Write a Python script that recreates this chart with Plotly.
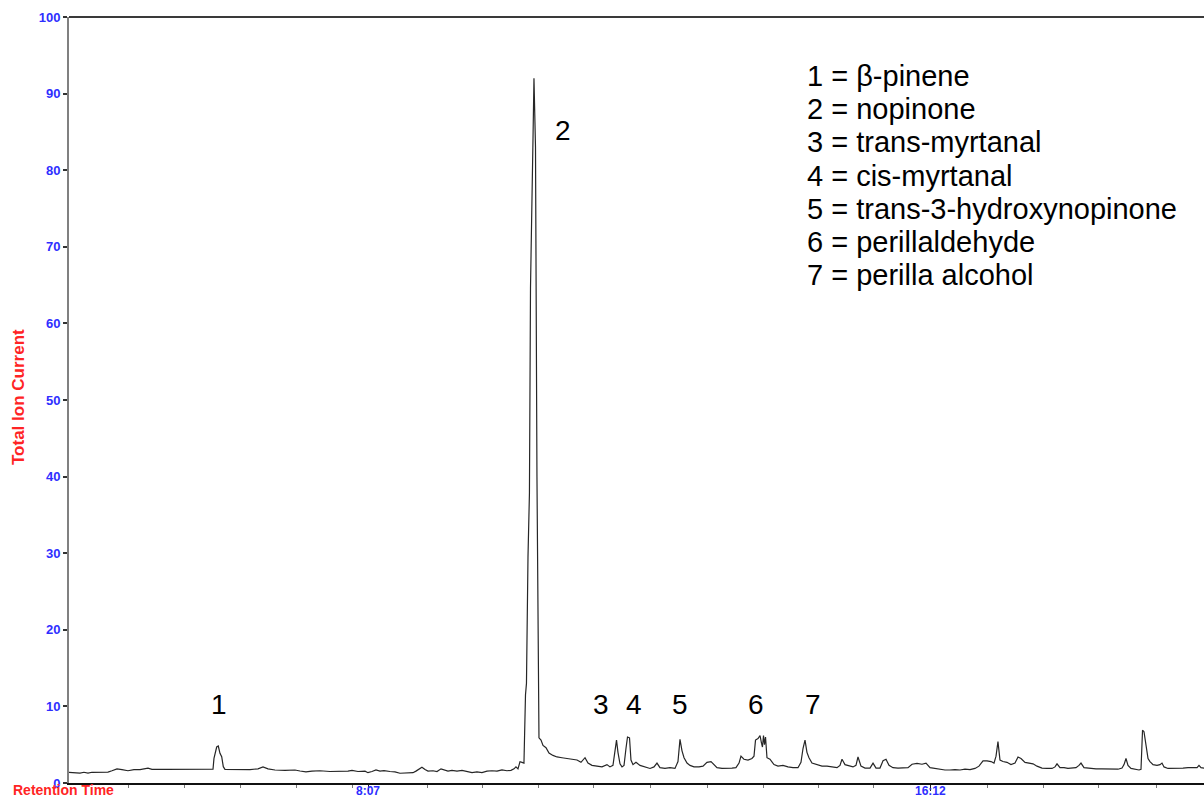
import plotly.graph_objects as go

# ---------------- data ----------------
# retention time in minutes
rt_min = [
    3.816, 3.902, 3.974, 4.031, 4.089, 4.146, 4.261, 4.376, 4.434, 4.506,
    4.578, 4.664, 4.750, 4.837, 4.952, 5.009, 5.196, 5.412, 5.628, 5.772,
    5.858, 5.887, 5.901, 5.940, 5.963, 5.987, 6.012, 6.035, 6.059, 6.203,
    6.419, 6.534, 6.606, 6.678, 6.778, 6.922, 7.066, 7.138, 7.224, 7.310,
    7.425, 7.569, 7.713, 7.828, 7.886, 7.972,
    8.073, 8.116, 8.173, 8.231, 8.288, 8.346, 8.432, 8.504, 8.576, 8.648,
    8.720, 8.763, 8.806, 8.849, 8.892, 8.936, 8.979, 9.051, 9.108, 9.166,
    9.209, 9.266, 9.324, 9.396, 9.468, 9.540, 9.612, 9.683, 9.755, 9.827,
    9.899, 9.971, 10.043, 10.115, 10.172, 10.216, 10.244, 10.273, 10.302, 10.331,
    10.359,
    10.381, 10.395, 10.417, 10.438, 10.453, 10.474, 10.489, 10.503, 10.525, 10.546,
    10.565,
    10.575, 10.604, 10.633, 10.676, 10.719, 10.776, 10.834, 10.906, 10.978, 11.050,
    11.122, 11.179, 11.237, 11.280, 11.337, 11.409, 11.481, 11.553, 11.596, 11.639,
    11.668, 11.690, 11.711, 11.740, 11.769, 11.798, 11.826, 11.848, 11.877, 11.898,
    11.927,
    11.970, 12.028, 12.100, 12.172, 12.229, 12.272, 12.315, 12.387, 12.459, 12.531,
    12.574, 12.603, 12.632, 12.661, 12.704, 12.747, 12.804, 12.876, 12.934, 12.991,
    13.049, 13.092, 13.135, 13.207, 13.279, 13.351, 13.408, 13.452, 13.480, 13.523,
    13.581, 13.638, 13.667, 13.689, 13.725, 13.754, 13.775, 13.789, 13.804, 13.818,
    13.833, 13.854, 13.897, 13.955, 14.012, 14.084, 14.156, 14.228, 14.300,
    14.343, 14.372, 14.401, 14.429, 14.458, 14.501, 14.573, 14.645, 14.717, 14.789,
    14.861, 14.904, 14.933, 14.976, 15.034, 15.091, 15.134, 15.163, 15.206, 15.264,
    15.336, 15.379, 15.422, 15.479, 15.523, 15.566, 15.609, 15.666, 15.738, 15.810,
    15.882, 15.940, 16.012, 16.083, 16.141, 16.199, 16.270, 16.342, 16.414, 16.486,
    16.558, 16.630, 16.702, 16.774, 16.846, 16.903, 16.961, 17.018, 17.076, 17.119,
    17.148, 17.176, 17.205,
    17.248, 17.306, 17.363, 17.421, 17.464, 17.507, 17.565, 17.622, 17.680, 17.737,
    17.809, 17.881, 17.953, 17.996, 18.025, 18.068, 18.126, 18.183, 18.241, 18.298,
    18.341, 18.370, 18.413, 18.500, 18.586, 18.672, 18.759, 18.845, 18.902, 18.960,
    18.989, 19.017, 19.046, 19.089, 19.147, 19.204, 19.233, 19.255, 19.276, 19.305,
    19.334, 19.362, 19.406, 19.463, 19.506, 19.535, 19.564, 19.621, 19.693, 19.765,
    19.837, 19.909, 19.981, 20.039, 20.067, 20.096, 20.139,
]

# total ion current (relative, %)
tic = [
    1.40, 1.38, 1.30, 1.40, 1.30, 1.40, 1.40, 1.42, 1.60, 1.85,
    1.75, 1.60, 1.75, 1.75, 1.95, 1.78, 1.78, 1.80, 1.78, 1.80,
    1.78, 1.80, 3.22, 4.70, 4.83, 3.88, 3.43, 2.13, 1.79, 1.79,
    1.75, 1.85, 2.10, 1.85, 1.70, 1.65, 1.70, 1.57, 1.45, 1.55,
    1.60, 1.50, 1.50, 1.55, 1.65, 1.50,
    1.55, 1.35, 1.50, 1.70, 1.55, 1.62, 1.50, 1.45, 1.27, 1.27,
    1.27, 1.35, 1.55, 1.75, 2.05, 1.75, 1.55, 1.60, 1.50, 1.85,
    1.70, 1.55, 1.65, 1.55, 1.65, 1.45, 1.35, 1.45, 1.35, 1.55,
    1.60, 1.55, 1.70, 1.60, 1.65, 1.85, 2.10, 1.85, 2.78, 2.70,
    2.60,
    11.5, 13.0, 29.5, 37.9, 64.7, 80.0, 84.1, 92.0, 83.0, 40.0,
    8.2,
    5.9, 5.6, 4.9, 4.6, 3.9, 3.6, 3.4, 3.3, 3.2, 3.1,
    3.0, 2.7, 3.3, 2.6, 2.3, 2.2, 2.1, 2.4, 2.1, 2.3,
    4.2, 5.6, 4.0, 2.5, 2.1, 2.3, 4.5, 6.0, 5.9, 3.0,
    2.4,
    2.7, 2.3, 2.1, 1.9, 2.1, 2.6, 2.0, 1.9, 2.0, 1.9,
    2.8, 5.7, 4.2, 3.3, 2.6, 2.3, 2.1, 2.1, 2.2, 2.7,
    2.8, 2.4, 2.0, 1.9, 1.9, 1.95, 2.0, 2.6, 3.5, 3.1,
    3.0, 3.2, 3.5, 5.6, 5.8, 6.2, 5.2, 4.7, 6.2, 5.0,
    6.0, 3.3, 3.1, 2.4, 2.2, 2.3, 2.1, 2.0, 2.0,
    2.7, 4.5, 5.6, 4.0, 3.3, 2.6, 2.4, 2.2, 2.2, 2.1,
    2.0, 2.3, 3.1, 2.4, 2.2, 2.1, 2.3, 3.4, 2.2, 1.95,
    1.95, 2.6, 1.95, 1.95, 2.9, 3.1, 2.3, 2.0, 1.95, 2.0,
    2.0, 2.45, 2.55, 2.45, 2.6, 2.0, 1.9, 1.75, 1.7, 1.7,
    1.75, 1.7, 1.8, 1.75, 1.9, 2.2, 2.9, 2.9, 2.8, 2.6,
    3.5, 5.4, 3.0,
    2.8, 2.7, 2.4, 2.6, 3.4, 3.2, 2.7, 2.6, 2.5, 2.2,
    1.95, 1.9, 1.9, 2.1, 2.5, 2.0, 2.0, 1.9, 2.0, 2.0,
    2.3, 2.6, 2.0, 1.9, 1.85, 1.85, 1.85, 1.85, 1.8, 1.95,
    2.4, 3.2, 2.3, 1.9, 1.8, 1.7, 1.8, 6.9, 6.7, 4.7,
    3.2, 2.8, 2.4, 2.3, 2.4, 2.6, 2.1, 1.9, 1.9, 1.95,
    1.95, 2.0, 1.95, 2.0, 2.3, 2.0, 1.95,
]

# peak numbers and where they are written
peak_ids = ["1", "2", "3", "4", "5", "6", "7"]
peak_label_rt = [5.966, 10.920, 11.460, 11.937, 12.596, 13.693, 14.520]
peak_label_tic = [10.2, 85.2, 10.2, 10.2, 10.2, 10.2, 10.2]

# compound key
key_lines = [
    "1 = \u03b2-pinene",
    "2 = nopinone",
    "3 = trans-myrtanal",
    "4 = cis-myrtanal",
    "5 = trans-3-hydroxynopinone",
    "6 = perillaldehyde",
    "7 = perilla alcohol",
]

# axes
x_major_vals = [8.1167, 16.2]
x_major_text = ["8:07", "16:12"]
x_minor_vals = [4.665, 5.470, 6.276, 7.081, 7.887, 8.965, 9.756, 10.562, 11.353,
                12.172, 12.992, 13.798, 14.589, 15.380, 17.019, 17.825, 18.616, 19.450]
y_ticks = [0, 10, 20, 30, 40, 50, 60, 70, 80, 90, 100]

# ---------------- figure ----------------
FONT = "Liberation Sans, Arial, sans-serif"
BLUE = "#2e2eff"
RED = "#ff2424"

fig = go.Figure()
fig.add_trace(go.Scatter(
    x=rt_min, y=tic, mode="lines",
    line=dict(color="#262626", width=1.2),
    hoverinfo="skip",
))

W, H = 1204, 800
ML, MR, MT, MB = 69, 0, 17, 17
plot_w = W - ML - MR
plot_h = H - MT - MB

fig.update_layout(
    width=W, height=H,
    margin=dict(l=ML, r=MR, t=MT, b=MB, pad=0, autoexpand=False),
    paper_bgcolor="white", plot_bgcolor="white",
    showlegend=False,
    font=dict(family=FONT),
)

fig.update_xaxes(
    range=[3.816, 20.139], automargin=False,
    showgrid=False, zeroline=False,
    showline=True, linecolor="#111111", linewidth=2,
    tickmode="array", tickvals=x_major_vals, ticktext=x_major_text,
    showticklabels=False,
    ticks="outside", ticklen=6, tickwidth=1, tickcolor="#222222",
    minor=dict(tickmode="array", tickvals=x_minor_vals, ticks="outside",
               ticklen=3, tickwidth=1, tickcolor="#777777", showgrid=False),
)

fig.update_yaxes(
    range=[0, 100], automargin=False,
    showgrid=False, zeroline=False,
    showline=True, linecolor="#808080", linewidth=2,
    tickmode="array", tickvals=y_ticks,
    ticks="outside", ticklen=4, tickwidth=2, tickcolor="#333333",
    tickfont=dict(family=FONT, size=13, color=BLUE, weight="bold"),
)

# x tick labels, kept fully inside the bottom edge
for val, txt in zip(x_major_vals, x_major_text):
    fig.add_annotation(x=val, y=(H - MB - 799) / plot_h, xref="x", yref="paper",
                       text=txt, showarrow=False, xanchor="center", yanchor="bottom",
                       borderpad=0,
                       font=dict(family=FONT, size=12, color=BLUE, weight="bold"))

# top frame line
fig.add_shape(type="line", xref="paper", yref="paper", x0=0, x1=1, y0=1, y1=1,
              line=dict(color="#3a3a3a", width=2))

# peak numbers
for pid, px_, py_ in zip(peak_ids, peak_label_rt, peak_label_tic):
    fig.add_annotation(x=px_, y=py_, xref="x", yref="y", text=pid, showarrow=False,
                       xanchor="center", yanchor="middle",
                       font=dict(family=FONT, size=28, color="black"))

# compound key
key_left_px = 805
key_top_px = 76
key_step_px = 33.2
for i, line in enumerate(key_lines):
    ypx = key_top_px + i * key_step_px
    fig.add_annotation(x=(key_left_px - ML) / plot_w, y=(H - MB - ypx) / plot_h,
                       xref="paper", yref="paper", text=line, showarrow=False,
                       xanchor="left", yanchor="middle",
                       font=dict(family=FONT, size=29, color="black"))

# axis titles
fig.add_annotation(x=(18 - ML) / plot_w, y=(H - MB - 397) / plot_h,
                   xref="paper", yref="paper", text="Total Ion Current",
                   textangle=-90, showarrow=False, xanchor="center", yanchor="middle",
                   font=dict(family=FONT, size=17, color=RED, weight="bold"))
fig.add_annotation(x=(12 - ML) / plot_w, y=(H - MB - 799) / plot_h,
                   xref="paper", yref="paper", text="Retention Time",
                   showarrow=False, xanchor="left", yanchor="bottom", borderpad=0,
                   font=dict(family=FONT, size=14, color=RED, weight="bold"))

fig.write_html("out.html")
